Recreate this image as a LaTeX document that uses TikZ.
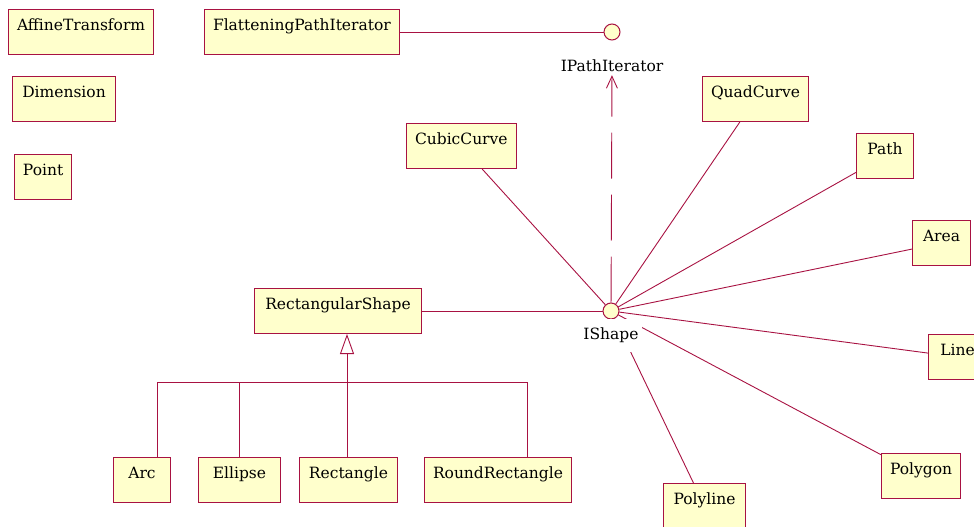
\documentclass[tikz,border=0pt]{standalone}
\usepackage{fontspec}
\setmainfont{DejaVu Serif}
\usetikzlibrary{arrows.meta}

\definecolor{umlline}{RGB}{168,18,66}
\definecolor{umlfill}{RGB}{255,255,204}

\begin{document}
\begin{tikzpicture}[x=1pt, y=-1pt,
  font=\fontsize{15.5}{18}\selectfont,
  classbox/.style={rectangle, draw=umlline, fill=umlfill, line width=1pt, anchor=north west, inner xsep=8.5pt, inner ysep=9pt, text height=12pt, text depth=15pt},
  iface/.style={circle, draw=umlline, fill=umlfill, line width=1pt, minimum size=16pt, inner sep=0pt},
  ifacename/.style={inner sep=3pt},
  assoc/.style={draw=umlline, line width=0.9pt}]
\useasboundingbox (0,0) rectangle (974,527);

% loose classes
\node[classbox] (affine) at (8,9) {AffineTransform};
\node[classbox, minimum width=103pt] (dimension) at (12,76) {Dimension};
\node[classbox] (point) at (14,154) {Point};

% path iterator
\node[classbox] (flatten) at (204,9) {FlatteningPathIterator};
\node[iface] (iterator) at (612,32) {};
\node[ifacename] (iteratorname) at (612,66) {IPathIterator};

% shapes round IShape
\node[iface] (ishape) at (611,311) {};
\node[classbox] (cubic) at (406,123) {CubicCurve};
\node[classbox] (quad) at (702,76) {QuadCurve};
\node[classbox, minimum width=57pt] (path) at (856,133) {Path};
\node[classbox, minimum width=58pt] (area) at (912,220) {Area};
\node[classbox, minimum width=58pt] (line) at (928,334) {Line};
\node[classbox] (polygon) at (881,453) {Polygon};
\node[classbox, minimum width=82pt] (polyline) at (663,483) {Polyline};
\node[classbox, minimum width=167pt] (rectshape) at (254,288) {RectangularShape};

% subclasses of RectangularShape
\node[classbox, minimum width=57pt] (arc) at (113,457) {Arc};
\node[classbox, minimum width=82pt] (ellipse) at (198,457) {Ellipse};
\node[classbox, minimum width=98pt] (rectangle) at (299,457) {Rectangle};
\node[classbox] (roundrect) at (424,457) {RoundRectangle};
\coordinate (bar) at (347,382);
\coordinate (barleft) at (157,382);
\coordinate (barright) at (527,382);

\draw[assoc] (flatten) -- (iterator);
\draw[assoc, dash pattern=on 46pt off 16pt, -{Straight Barb[length=12pt, width=11pt]}] (ishape) -- (iteratorname);

\draw[assoc] (ishape) -- (cubic);
\draw[assoc] (ishape) -- (quad);
\draw[assoc] (ishape) -- (path);
\draw[assoc] (ishape) -- (area);
\draw[assoc] (ishape) -- (line);
\draw[assoc] (ishape) -- (polygon);
\draw[assoc] (ishape) -- (polyline);
\draw[assoc] (rectshape) -- (ishape);

\draw[assoc] (barleft |- arc.north) -- (barleft) -- (barright) -- (barright |- roundrect.north);
\draw[assoc] (ellipse.north) -- (ellipse.north |- bar);
\draw[assoc] (bar |- rectangle.north) -- (bar);
\draw[assoc, -{Triangle[open, length=20pt, width=14pt, fill=white]}] (bar) -- (bar |- rectshape.south);

\node[ifacename, fill=white, inner ysep=9pt] (ishapename) at (611,335) {IShape};
\end{tikzpicture}
\end{document}
